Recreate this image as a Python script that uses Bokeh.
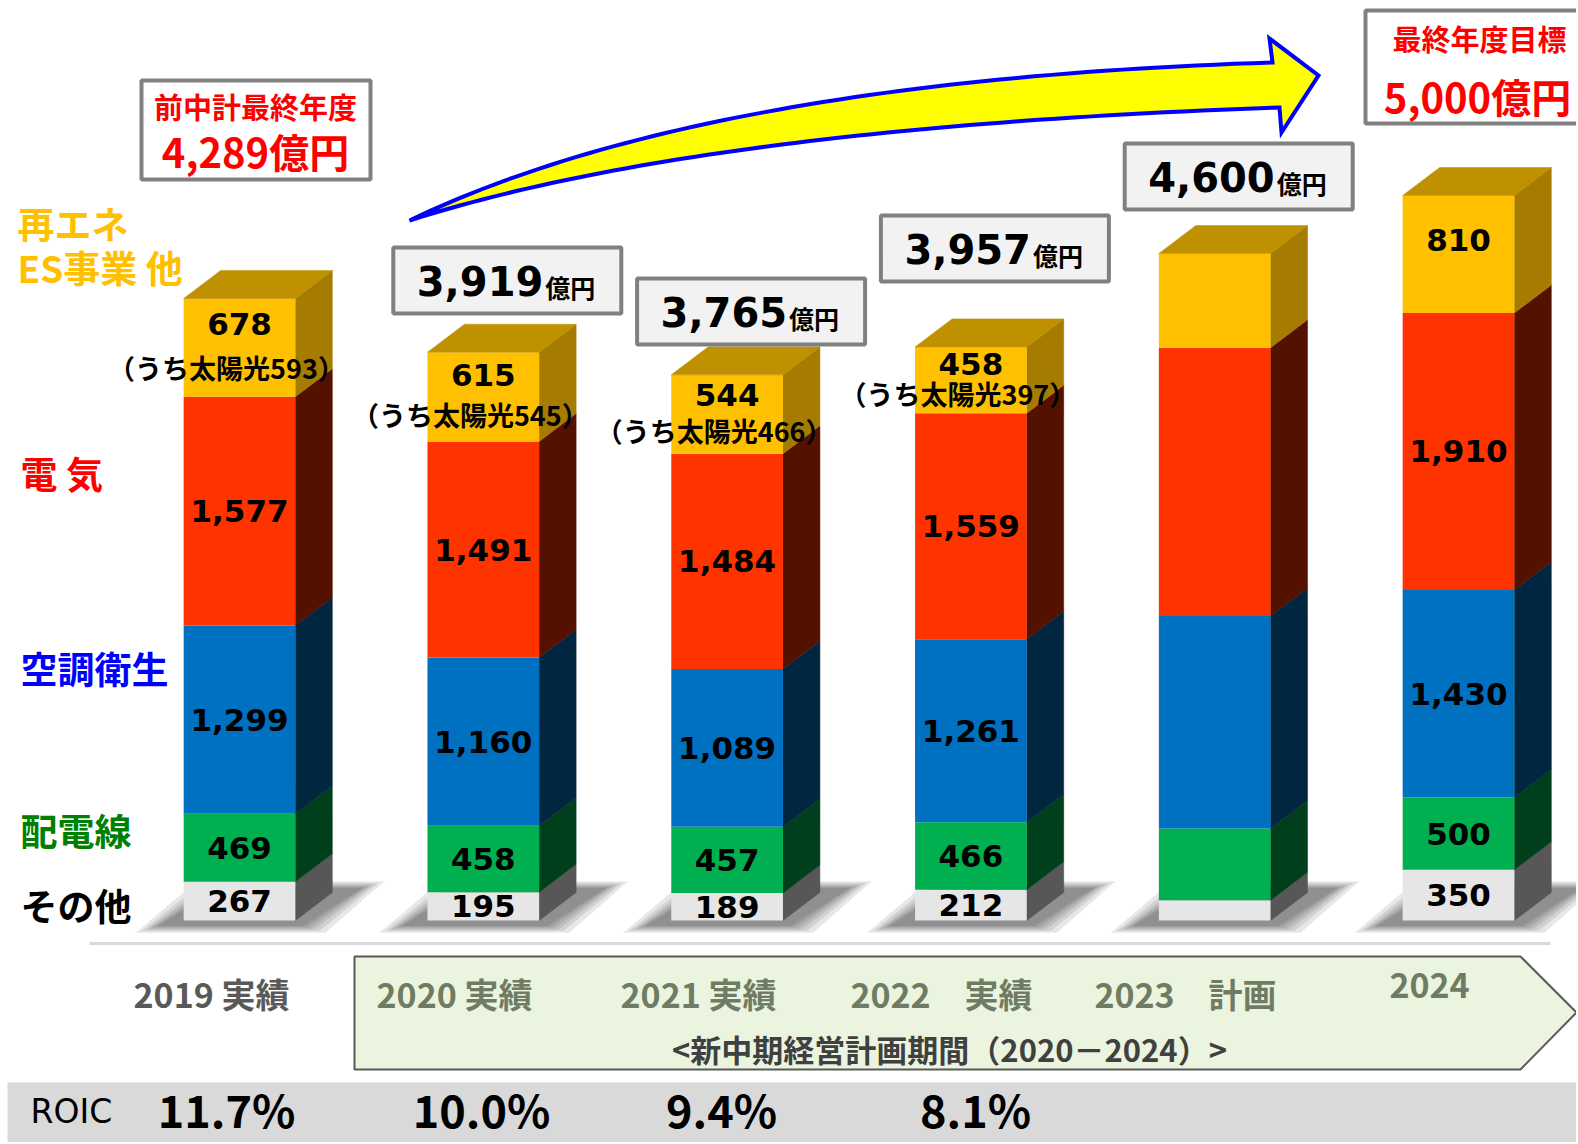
import numpy as np
from bokeh.plotting import figure
from bokeh.models import Range1d
from bokeh.core.properties import value
from bokeh.embed import file_html
from bokeh.resources import INLINE

# ---------------- data ----------------
years = ["2019", "2020", "2021", "2022", "2023", "2024"]
year_labels = ["2019 実績", "2020 実績", "2021 実績", "2022　実績", "2023　計画", "2024"]
other = [267, 195, 189, 212, 140, 350]          # その他
wiring = [469, 458, 457, 466, 495, 500]         # 配電線
hvac = [1299, 1160, 1089, 1261, 1465, 1430]     # 空調衛生
electric = [1577, 1491, 1484, 1559, 1850, 1910] # 電気
renew = [678, 615, 544, 458, 650, 810]          # 再エネ・ES事業 他
solar = [593, 545, 466, 397, None, None]        # うち太陽光
show_values = [True, True, True, True, False, True]
totals = [4289, 3919, 3765, 3957, 4600, 5000]
roic = ["11.7%", "10.0%", "9.4%", "8.1%"]
series_names = ["その他", "配電線", "空調衛生", "電 気", "再エネ", "ES事業 他"]

# ---------------- layout helpers ----------------
W, H = 1576, 1142
PXU = 243.8   # px per category step
PYU = 0.145   # px per 億円
X0 = 239.0    # x of first bar centre
Y0 = 920.0    # y of baseline


def X(fx):
    return (fx - X0) / PXU


def Y(fy):
    return (Y0 - fy) / PYU


p = figure(width=W, height=H,
           x_range=Range1d(X(0), X(W)), y_range=Range1d(Y(H), Y(0)),
           output_backend="svg", toolbar_location=None, min_border=0,
           x_axis_location=None, y_axis_location=None)
p.xgrid.visible = False
p.ygrid.visible = False
p.outline_line_color = None
p.background_fill_color = "white"
p.border_fill_color = "white"

JP = "Noto Sans CJK JP"
NUM = "DejaVu Sans"


def txt(fx, fy, s, size, color="black", font=JP, style="bold", align="center", baseline="middle"):
    p.text(x=[X(fx)], y=[Y(fy)], text=[s], text_font=value(font),
           text_font_size=value(f"{size}px"), text_font_style=style,
           text_color=color, text_align=align, text_baseline=baseline)


def box(l, t, r, b, fill, line="#808080", lw=4):
    p.quad(left=[X(l)], right=[X(r)], top=[Y(t)], bottom=[Y(b)],
           fill_color=fill, line_color=line, line_width=lw)


# ---------------- bars ----------------
idx = np.arange(len(years), dtype=float)
BW = 0.458
DX = 37 / PXU
DY = 28 / PYU
stack = [other, wiring, hvac, electric, renew]
front_cols = ["#E6E6E6", "#00B050", "#0070C0", "#FF3300", "#FFC000"]
side_cols = ["#575757", "#003F1B", "#002640", "#541100", "#A67C00"]
top_col = "#BF9000"

cum = np.cumsum(np.array(stack, dtype=float), axis=0)
bottoms = np.vstack([np.zeros(len(years)), cum[:-1]])
tops = cum

# soft shadows
for e in [24, 18, 13, 9, 5, 2]:
    ex = e / PXU
    ey = e / PYU
    xs, ys = [], []
    for i in range(len(years)):
        xl, xr = idx[i] - BW / 2, idx[i] + BW / 2
        xs.append([xl - 24 / PXU - ex, xr + 6 / PXU + ex, xr + DX + 28 / PXU + ex, xl + DX - ex])
        ys.append([-5 / PYU - ey * 0.3, -5 / PYU - ey * 0.3, 32 / PYU + ey * 0.3, 32 / PYU + ey * 0.3])
    p.patches(xs=xs, ys=ys, fill_color="#222222", fill_alpha=0.11, line_color=None)

for k in range(len(stack)):
    # side faces
    xs, ys = [], []
    for i in range(len(years)):
        xr = idx[i] + BW / 2
        b, t = bottoms[k][i], tops[k][i]
        xs.append([xr, xr + DX, xr + DX, xr])
        ys.append([b, b + DY, t + DY, t])
    p.patches(xs=xs, ys=ys, fill_color=side_cols[k], line_color=side_cols[k], line_width=0.5)
    # front faces
    p.vbar(x=idx, bottom=bottoms[k], top=tops[k], width=BW,
           fill_color=front_cols[k], line_color=None)

# top faces
xs, ys = [], []
for i in range(len(years)):
    xl, xr = idx[i] - BW / 2, idx[i] + BW / 2
    T = tops[-1][i]
    xs.append([xl, xr, xr + DX, xl + DX])
    ys.append([T, T, T + DY, T + DY])
p.patches(xs=xs, ys=ys, fill_color=top_col, line_color=top_col, line_width=0.5)


def vlabel(xv, yv, s):
    p.text(x=[xv], y=[yv], text=[s], text_font=value(NUM),
           text_font_size=value("31px"), text_font_style="bold",
           text_color="black", text_align="center", text_baseline="middle")


# segment value labels
for i in range(len(years)):
    if not show_values[i]:
        continue
    for k in range(len(stack)):
        b, t = bottoms[k][i], tops[k][i]
        s = f"{int(stack[k][i]):,}"
        if k == 4:
            h = t - b
            if solar[i] is not None:
                vlabel(idx[i], t - 0.26 * h, s)
                p.text(x=[idx[i] - 13 / PXU], y=[t - 0.70 * h], text=[f"（うち太陽光{solar[i]}）"],
                       text_font=value(JP), text_font_size=value("27px"), text_font_style="bold",
                       text_color="black", text_align="center", text_baseline="middle")
            else:
                vlabel(idx[i], t - 0.38 * h, s)
        else:
            vlabel(idx[i], (b + t) / 2, s)

# ---------------- total boxes ----------------
box_tops = [247, 278, 215, 143]   # for 2020..2023
for j, i in enumerate(range(1, 5)):
    bc = X0 + idx[i] * PXU + 24
    bt = box_tops[j]
    box(bc - 114, bt, bc + 114, bt + 66, "#F2F2F2")
    jx = bc + 36
    txt(jx, bt + 33, f"{totals[i]:,}", 40, font=NUM, align="right")
    txt(jx + 2, bt + 39, "億円", 25, align="left")

# previous plan box
box(141, 80, 370, 179, "white")
txt(255, 105, "前中計最終年度", 29, color="#FF0000")
txt(255, 150, f"{totals[0]:,}億円", 40, color="#FF0000")

# final target box
box(1365, 10, 1620, 123, "white")
txt(1479, 37, "最終年度目標", 29, color="#FF0000")
txt(1477, 95, f"{totals[5]:,}億円", 40, color="#FF0000")

# ---------------- big curved arrow ----------------
t = np.linspace(0, 1, 60)


def bez(p0, c, p2):
    x = (1 - t) ** 2 * p0[0] + 2 * t * (1 - t) * c[0] + t ** 2 * p2[0]
    y = (1 - t) ** 2 * p0[1] + 2 * t * (1 - t) * c[1] + t ** 2 * p2[1]
    return x, y


tx, ty = bez((409, 220), (700, 80), (1272, 62))
bx, by = bez((409, 220), (700, 127), (1279, 107))
ax = list(tx) + [1269, 1318, 1281] + list(bx[::-1])
ay = list(ty) + [38, 75, 132] + list(by[::-1])
p.patch(x=[X(v) for v in ax], y=[Y(v) for v in ay], fill_color="#FFFF00",
        line_color="#0000FF", line_width=4, line_join="miter")

# ---------------- left legend labels ----------------
txt(17, 222, "再エネ", 37, color="#FFC000", align="left")
txt(17, 266, "ES事業 他", 37, color="#FFC000", align="left")
txt(20, 472, "電 気", 37, color="#FF0000", align="left")
txt(20, 667, "空調衛生", 37, color="#0000FF", align="left")
txt(20, 829, "配電線", 37, color="#008000", align="left")
txt(20, 904, "その他", 37, color="black", align="left")

# ---------------- separator, period band ----------------
p.line(x=[X(89), X(1550)], y=[Y(943), Y(943)], line_color="#D9D9D9", line_width=3)
px_ = [354, 1520, 1576, 1520, 354]
py_ = [956, 956, 1012, 1069, 1069]
p.patch(x=[X(v) for v in px_], y=[Y(v) for v in py_], fill_color="#EAF4DE",
        line_color="#595959", line_width=2)

label_x = [211, 454, 698, 941, 1185, 1429]
label_y = [993, 993, 993, 993, 993, 985]
for i in range(len(years)):
    col = "#595959" if i == 0 else "#6F7C63"
    txt(label_x[i], label_y[i], year_labels[i], 34, color=col)
txt(949, 1048, "<新中期経営計画期間（2020－2024）>", 31, color="#404040")

# ---------------- ROIC band ----------------
box(7, 1082, 1600, 1160, "#D9D9D9", line=None, lw=0)
txt(30, 1111, "ROIC", 33, font=NUM, style="normal", align="left")
roic_x = [226, 481, 721, 975]
for i, r in enumerate(roic):
    txt(roic_x[i], 1108, r, 45)

open("out.html", "w").write(file_html(p, INLINE))
